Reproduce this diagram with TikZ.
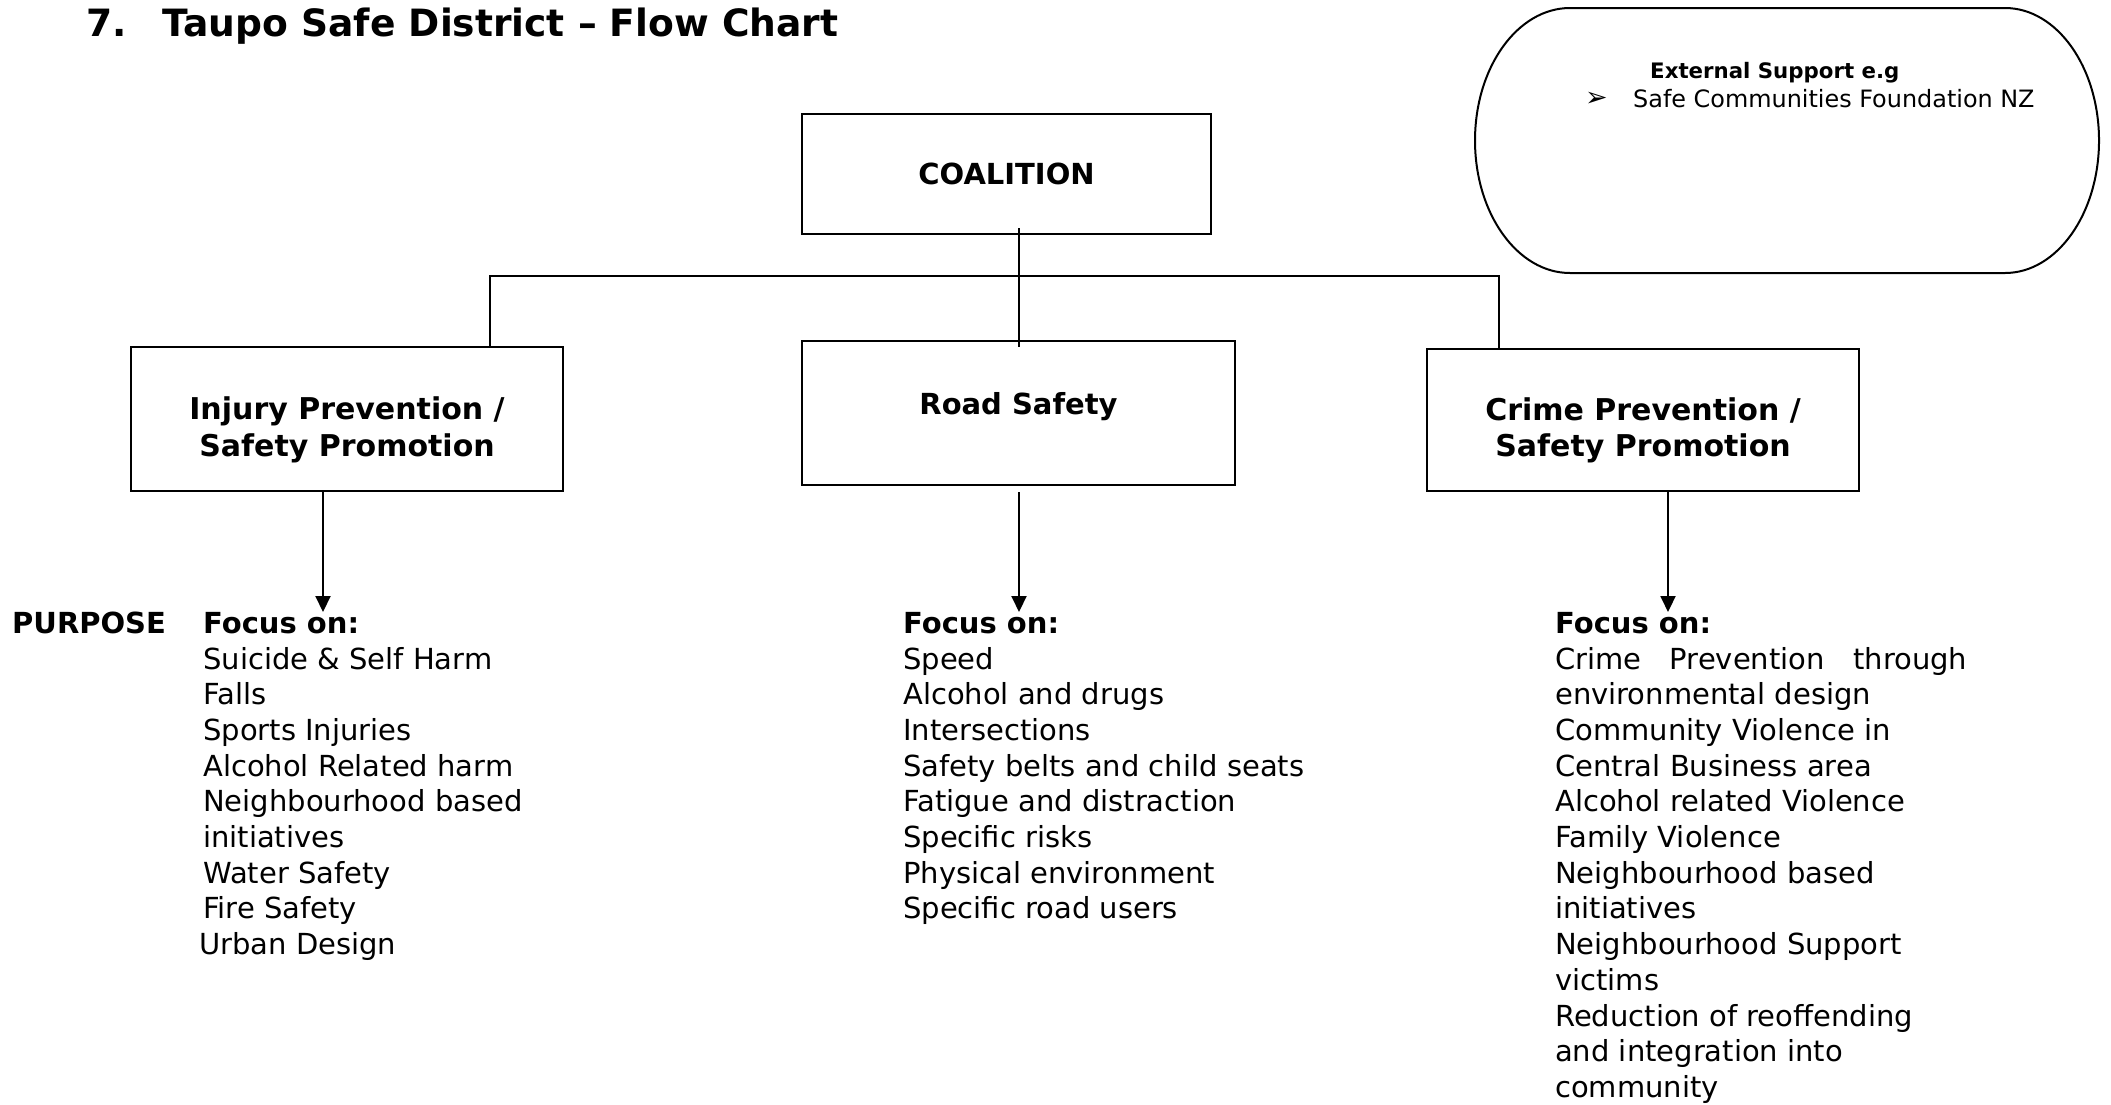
\documentclass[tikz,border=0pt]{standalone}
\usepackage{fontspec}
\setmainfont{DejaVu Sans}
\usetikzlibrary{arrows.meta}
\tikzset{
  ln/.style={line width=2pt, black},
  boxnode/.style={draw, line width=2pt, inner sep=0pt, align=center,
    font=\bfseries\fontsize{29}{35}\selectfont},
  boxtext/.style={inner sep=0pt, align=center,
    font=\bfseries\fontsize{30}{36.5}\selectfont},
  arr/.style={ln, -{Triangle[length=16pt,width=15pt]}},
  col/.style={anchor=north west, inner sep=0pt, align=left,
    font=\fontsize{29}{35.7}\selectfont},
  lbl/.style={anchor=base west, inner sep=0pt}
}
\begin{document}
\begin{tikzpicture}[x=1pt,y=-1pt]
\useasboundingbox[fill=white] (0,0) rectangle (2111,1104);

% title
\node[lbl, font=\bfseries\fontsize{37.6}{42}\selectfont] (title) at (86,36)
  {7.\hspace{36pt}Taupo Safe District – Flow Chart};

% external support shape
\draw[ln] (1570,8) -- (2005,8)
  arc[start angle=-90,end angle=90,x radius=94,y radius=132.5]
  -- (1570,273)
  arc[start angle=90,end angle=270,x radius=95,y radius=132.5] -- cycle;
\node[lbl, font=\bfseries\fontsize{21.3}{26}\selectfont] (ext) at (1650,78) {External Support e.g};
\node[lbl, font=\fontsize{27}{30}\selectfont] (bul) at (1585,106) {➢};
\node[lbl, font=\fontsize{23.9}{28}\selectfont] (scf) at (1633,107) {Safe Communities Foundation NZ};

% boxes
\node[boxnode, minimum width=409pt, minimum height=120pt] (coal) at (1006.5,174) {COALITION};
\node[boxnode, minimum width=433pt, minimum height=144pt, text depth=20pt] (road) at (1018.5,413) {Road Safety};
\node[boxnode, minimum width=432pt, minimum height=144pt] (inj) at (347,419) {};
\node[boxtext] (injt) at ([yshift=-11pt]inj.center) {Injury Prevention /\\Safety Promotion};
\node[boxnode, minimum width=432pt, minimum height=142pt] (crime) at (1643,420) {};
\node[boxtext] (crimet) at ([yshift=-10.5pt]crime.center) {Crime Prevention /\\Safety Promotion};

% connectors
\coordinate (bl) at (490,276);
\coordinate (br) at (1499,276);
\draw[ln, shorten <=-7pt, shorten >=-7pt] (coal.south -| road.north) -- (road.north);
\draw[ln] (inj.north -| bl) -- (bl) -- (br) -- (crime.north -| br);

\coordinate (a1) at (323,612);
\coordinate (a2) at (1019,612);
\coordinate (a3) at (1668,612);
\draw[arr] (inj.south -| a1) -- (a1);
\draw[arr, shorten <=6pt] (road.south -| a2) -- (a2);
\draw[arr] (crime.south -| a3) -- (a3);

% purpose
\node[lbl, font=\bfseries\fontsize{29}{35.7}\selectfont] (purp) at (12,633) {PURPOSE};

\node[col] (c1) at (203,612) {\textbf{Focus on:}\\
Suicide \& Self Harm\\
Falls\\
Sports Injuries\\
Alcohol Related harm\\
Neighbourhood based\\
initiatives\\
Water Safety\\
Fire Safety\\
\hspace*{-4pt}Urban Design};

\node[col] (c2) at (903,612) {\textbf{Focus on:}\\
Speed\\
Alcohol and drugs\\
Intersections\\
Safety belts and child seats\\
Fatigue and distraction\\
Specific risks\\
Physical environment\\
Specific road users};

\node[col] (c3) at (1555,612) {\textbf{Focus on:}\\
\makebox[412pt][s]{Crime Prevention through}\\
environmental design\\
Community Violence in\\
Central Business area\\
Alcohol related Violence\\
Family Violence\\
Neighbourhood based\\
initiatives\\
Neighbourhood Support\\
victims\\
Reduction of reoffending\\
and integration into\\
community};
\end{tikzpicture}
\end{document}
